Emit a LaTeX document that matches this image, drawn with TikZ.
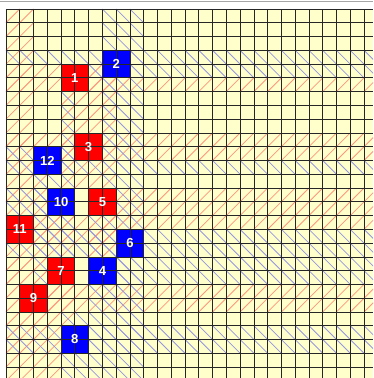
\documentclass[tikz,border=0pt]{standalone}
\usepackage{fontspec}
\setmainfont{Liberation Sans}
\definecolor{bgy}{RGB}{255,255,204}
\definecolor{hatchr}{RGB}{255,150,125}
\definecolor{hatchb}{RGB}{150,150,225}
\definecolor{blkr}{RGB}{255,0,0}
\definecolor{blkb}{RGB}{0,0,255}
\newcommand\rowR[3]{\foreach \cc in {#2,...,#3}{\draw[redl] (\cc,-#1-1) -- ++(1,1);}}
\newcommand\rowB[3]{\foreach \cc in {#2,...,#3}{\draw[bluel] (\cc,-#1) -- ++(1,-1);}}
\newcommand\colR[3]{\foreach \rr in {#2,...,#3}{\draw[redl] (#1,-\rr-1) -- ++(1,1);}}
\newcommand\colB[3]{\foreach \rr in {#2,...,#3}{\draw[bluel] (#1,-\rr) -- ++(1,-1);}}
\begin{document}
\begin{tikzpicture}[x=0.5cm,y=0.5cm,
  redl/.style={hatchr,line width=0.8pt},
  bluel/.style={hatchb,line width=0.8pt},
  gridl/.style={black!85,line width=0.75pt},
  rblk/.style={fill=blkr,minimum size=1cm,inner sep=0pt,draw=none},
  bblk/.style={fill=blkb,minimum size=1cm,inner sep=0pt,draw=none},
  lbl/.style={text=white,font=\bfseries\fontsize{13.5}{13.5}\selectfont,inner sep=0pt}]
\useasboundingbox (-0.4357,-26.797) rectangle (26.652,0.6536);
\fill[white] (-0.4357,-26.797) rectangle (26.652,0.6536);
\draw[gray!70,line width=0.6pt] (-0.4357,0.545) -- (26.652,0.545);
\fill[bgy] (0,-26.797) rectangle (26.652,0);
\begin{scope}
\clip (0,-26.797) rectangle (26.652,0);
% red horizontal
\rowR{4}{0}{3}\rowR{5}{0}{3}\rowR{4}{6}{6}\rowR{5}{6}{26}
\rowR{9}{0}{4}\rowR{10}{4}{4}\rowR{9}{7}{26}\rowR{10}{7}{26}
\rowR{13}{8}{26}\rowR{14}{8}{26}
\rowR{15}{2}{26}\rowR{16}{2}{7}
\rowR{18}{0}{2}\rowR{19}{0}{2}
\rowR{20}{0}{0}\rowR{21}{0}{0}\rowR{20}{3}{26}\rowR{21}{3}{26}
% red vertical
\colR{4}{6}{12}\colR{5}{6}{8}
\colR{6}{5}{8}\colR{5}{11}{12}\colR{6}{11}{12}
\colR{7}{5}{12}\colR{6}{15}{17}\colR{7}{15}{17}
\colR{0}{0}{14}\colR{1}{0}{14}\colR{0}{17}{26}\colR{1}{17}{19}
\colR{3}{15}{17}\colR{4}{15}{17}\colR{3}{20}{26}\colR{4}{20}{22}
\colR{2}{12}{19}\colR{1}{22}{26}\colR{2}{22}{26}
% blue horizontal
\rowB{3}{0}{6}\rowB{4}{6}{6}\rowB{3}{9}{26}\rowB{4}{9}{26}
\rowB{10}{0}{1}\rowB{11}{0}{1}\rowB{10}{4}{4}\rowB{11}{4}{26}
\rowB{13}{0}{2}\rowB{14}{0}{2}
\rowB{16}{2}{7}\rowB{17}{0}{7}\rowB{16}{10}{26}\rowB{17}{10}{26}
\rowB{18}{8}{26}\rowB{19}{8}{26}
\rowB{23}{0}{3}\rowB{24}{0}{3}\rowB{23}{6}{26}\rowB{24}{6}{26}
% blue vertical
\colB{7}{0}{2}\colB{8}{0}{2}\colB{7}{5}{12}\colB{8}{5}{15}
\colB{2}{12}{19}\colB{3}{12}{12}
\colB{4}{6}{12}\colB{3}{15}{17}\colB{4}{15}{17}
\colB{9}{0}{15}\colB{8}{18}{26}\colB{9}{18}{26}
\colB{6}{15}{17}\colB{7}{15}{17}\colB{6}{20}{26}\colB{7}{20}{26}
\colB{4}{22}{22}\colB{5}{22}{22}\colB{4}{25}{26}\colB{5}{25}{26}
\end{scope}
% blocks
\node[rblk] (s1) at (5,-5) {};
\node[bblk] (s2) at (8,-4) {};
\node[rblk] (s3) at (6,-10) {};
\node[bblk] (s12) at (3,-11) {};
\node[bblk] (s10) at (4,-14) {};
\node[rblk] (s5) at (7,-14) {};
\node[rblk] (s11) at (1,-16) {};
\node[bblk] (s6) at (9,-17) {};
\node[rblk] (s7) at (4,-19) {};
\node[bblk] (s4) at (7,-19) {};
\node[rblk] (s9) at (2,-21) {};
\node[bblk] (s8) at (5,-24) {};
% grid
\draw[gridl,step=0.5cm] (0,-26.797) grid (26.652,0);
% labels
\foreach \n in {1,2,3,4,5,6,7,8,9,10,11,12}{\node[lbl] (t\n) at (s\n.center) {\n};}
\end{tikzpicture}
\end{document}
